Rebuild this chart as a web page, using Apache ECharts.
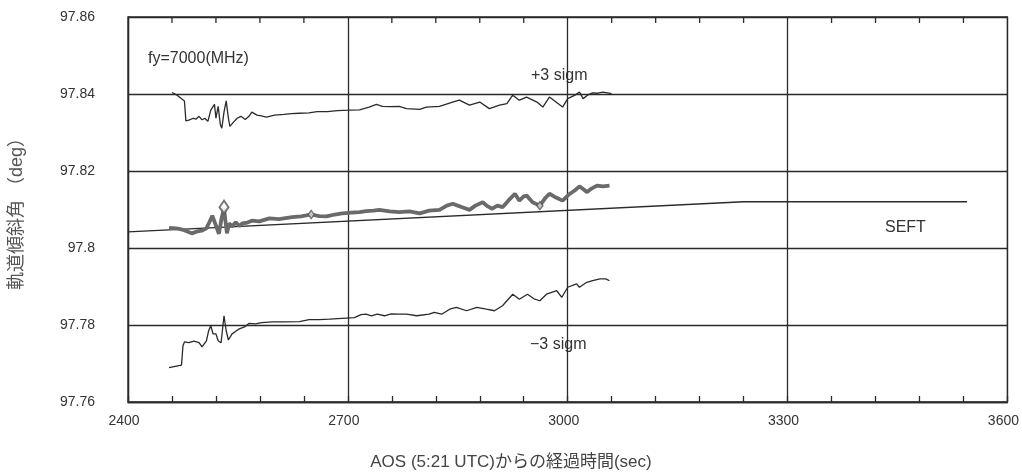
<!DOCTYPE html>
<html>
<head>
<meta charset="utf-8">
<script src="https://cdn.jsdelivr.net/npm/echarts@6/dist/echarts.min.js"></script>
<style>
html,body{margin:0;padding:0;background:#fff;}
#chart{width:1022px;height:472px;}
</style>
</head>
<body>
<div id="chart"></div>
<script>
// [time since AOS (s), inclination (deg)]
const upperSigma = [
[2460,97.8404],[2467,97.8397],[2477,97.8382],[2479,97.8330],[2483,97.8332],[2489,97.8337],[2493,97.8335],
[2497,97.8342],[2501,97.8333],[2505,97.8337],[2509,97.8329],[2513,97.8358],[2518,97.8373],[2520,97.8337],
[2523,97.8368],[2526,97.8321],[2528,97.8311],[2531,97.8353],[2534,97.8382],[2537,97.8337],[2539,97.8316],
[2544,97.8327],[2549,97.8337],[2554,97.8342],[2560,97.8334],[2565,97.8342],[2569,97.8353],[2576,97.8345],
[2582,97.8343],[2589,97.8340],[2600,97.8345],[2613,97.8347],[2623,97.8349],[2634,97.8350],[2647,97.8351],
[2658,97.8354],[2672,97.8354],[2686,97.8357],[2702,97.8358],[2716,97.8359],[2729,97.8366],[2739,97.8373],
[2747,97.8368],[2757,97.8367],[2770,97.8368],[2780,97.8362],[2798,97.8360],[2807,97.8366],[2825,97.8368],
[2843,97.8379],[2852,97.8384],[2866,97.8371],[2880,97.8379],[2893,97.8362],[2907,97.8371],[2917,97.8375],
[2925,97.8397],[2934,97.8384],[2944,97.8392],[2958,97.8379],[2966,97.8366],[2975,97.8392],[2984,97.8379],
[2993,97.8366],[3000,97.8388],[3010,97.8397],[3016,97.8405],[3021,97.8388],[3027,97.8397],[3034,97.8403],
[3041,97.8402],[3048,97.8405],[3060,97.8401]
];
const estimate = [
[2456,97.8052],[2466,97.8051],[2474,97.8048],[2481,97.8043],[2487,97.8038],[2494,97.8043],[2501,97.8045],
[2507,97.8051],[2511,97.8067],[2515,97.8084],[2520,97.8058],[2524,97.8037],[2528,97.8080],[2531,97.8102],
[2535,97.8038],[2538,97.8064],[2542,97.8056],[2547,97.8067],[2552,97.8057],[2556,97.8064],[2563,97.8066],
[2569,97.8071],[2579,97.8069],[2593,97.8077],[2606,97.8075],[2624,97.8080],[2636,97.8082],[2650,97.8087],
[2661,97.8083],[2671,97.8082],[2682,97.8087],[2692,97.8090],[2705,97.8092],[2716,97.8093],[2725,97.8096],
[2735,97.8097],[2743,97.8099],[2757,97.8095],[2770,97.8093],[2784,97.8095],[2798,97.8090],[2811,97.8097],
[2825,97.8099],[2835,97.8110],[2843,97.8115],[2850,97.8110],[2856,97.8106],[2866,97.8099],[2874,97.8110],
[2884,97.8119],[2891,97.8108],[2897,97.8102],[2904,97.8110],[2911,97.8106],[2919,97.8123],[2928,97.8141],
[2934,97.8123],[2940,97.8134],[2944,97.8136],[2952,97.8119],[2962,97.8110],[2969,97.8129],[2975,97.8141],
[2984,97.8131],[2993,97.8123],[2999,97.8134],[3003,97.8141],[3010,97.8150],[3016,97.8160],[3022,97.8152],
[3026,97.8145],[3033,97.8155],[3040,97.8162],[3048,97.8160],[3057,97.8162]
];
const lowerSigma = [
[2456,97.7689],[2473,97.7696],[2475,97.7746],[2477,97.7756],[2483,97.7754],[2490,97.7758],[2497,97.7754],
[2501,97.7743],[2507,97.7759],[2510,97.7785],[2513,97.7798],[2516,97.7777],[2520,97.7777],[2523,97.7759],
[2527,97.7754],[2531,97.7824],[2534,97.7785],[2537,97.7761],[2542,97.7777],[2548,97.7785],[2552,97.7790],
[2559,97.7795],[2565,97.7804],[2574,97.7803],[2582,97.7806],[2597,97.7808],[2613,97.7808],[2634,97.7809],
[2647,97.7814],[2661,97.7814],[2675,97.7815],[2692,97.7817],[2709,97.7819],[2718,97.7827],[2725,97.7828],
[2732,97.7824],[2740,97.7828],[2750,97.7824],[2759,97.7829],[2770,97.7828],[2780,97.7828],[2794,97.7824],
[2811,97.7828],[2818,97.7833],[2828,97.7828],[2839,97.7841],[2848,97.7846],[2862,97.7837],[2876,97.7846],
[2889,97.7841],[2900,97.7837],[2911,97.7850],[2925,97.7880],[2934,97.7867],[2945,97.7880],[2954,97.7868],
[2962,97.7863],[2971,97.7880],[2985,97.7889],[2992,97.7872],[3000,97.7898],[3012,97.7907],[3016,97.7898],
[3026,97.7911],[3034,97.7915],[3044,97.7920],[3052,97.7920],[3057,97.7915]
];
const seft = [[2400,97.8042],[3240,97.8120],[3545,97.8120]];
const bigDiamond = [[2531,97.8106]];
const smallDiamonds = [[2650,97.8087],[2962,97.8110]];
// minor tick positions along the top frame (s)
const topTicks = [2460,2520,2580,2640,2760,2820,2880,2940,3060,3120,3180,3240,3360,3420,3480,3540];

const xMin = 2400, xMax = 3600, xStep = 300;
const yMin = 97.76, yMax = 97.86, yStep = 0.02;

const texts = {
  freq: 'fy=7000(MHz)',
  plus: '+3 sigm',
  minus: '\u22123 sigm',
  seft: 'SEFT',
  xName: 'AOS (5:21 UTC)からの経過時間(sec)',
  yName: '軌道傾斜角 （deg）'
};

const FONT = '"Liberation Sans", Arial, "Noto Sans CJK JP", sans-serif';
const INK = '#2a2a2a';

const chart = echarts.init(document.getElementById('chart'));
chart.setOption({
  animation: false,
  backgroundColor: '#fff',
  grid: {left: 128, right: 14, top: 17, bottom: 70, show: true, borderColor: INK, borderWidth: 1.3},
  xAxis: {
    type: 'value', min: xMin, max: xMax, interval: xStep,
    axisLine: {show: true, onZero: false, lineStyle: {color: INK, width: 1.3}},
    axisTick: {show: true, inside: true, length: 6, lineStyle: {color: INK, width: 1.3}},
    minorTick: {show: true, splitNumber: 5, length: 6, lineStyle: {color: INK, width: 1.3}},
    axisLabel: {color: '#333', fontSize: 14, fontFamily: FONT, margin: 12,
      padding: [0, 8, 0, 0], formatter: v => String(v)},
    splitLine: {show: true, lineStyle: {color: INK, width: 1.3}}
  },
  yAxis: {
    type: 'value', min: yMin, max: yMax, interval: yStep,
    name: texts.yName, nameLocation: 'middle', nameGap: 102, nameRotate: 90,
    nameTextStyle: {color: '#555', fontSize: 18, fontFamily: FONT},
    axisLine: {show: true, lineStyle: {color: INK, width: 1.3}},
    axisTick: {show: false},
    axisLabel: {color: '#333', fontSize: 14, fontFamily: FONT, margin: 33},
    splitLine: {show: true, lineStyle: {color: INK, width: 1.3}}
  },
  graphic: [
    {type: 'text', left: 148, top: 51, style: {text: texts.freq, fill: '#333', font: '16px ' + FONT}},
    {type: 'text', left: 531, top: 68, style: {text: texts.plus, fill: '#333', font: '16px ' + FONT}},
    {type: 'text', left: 530, top: 337, style: {text: texts.minus, fill: '#333', font: '16px ' + FONT}},
    {type: 'text', left: 885, top: 220, style: {text: texts.seft, fill: '#333', font: '16px ' + FONT}},
    {type: 'text', left: 'center', top: 454, style: {text: texts.xName, fill: '#444', font: '17px ' + FONT}}
  ],
  series: [
    {type: 'custom', data: topTicks.map(t => [t, yMax]), silent: true, z: 2,
     renderItem: function (params, api) {
       const p = api.coord([api.value(0), api.value(1)]);
       return {type: 'line', shape: {x1: p[0], y1: p[1], x2: p[0], y2: p[1] + 6},
               style: {stroke: INK, lineWidth: 1.3}};
     }},
    {type: 'line', data: seft, symbol: 'none', lineStyle: {color: INK, width: 1.4}, z: 3},
    {type: 'line', data: upperSigma, symbol: 'none', lineStyle: {color: INK, width: 1.3}, z: 4},
    {type: 'line', data: lowerSigma, symbol: 'none', lineStyle: {color: INK, width: 1.3}, z: 4},
    {type: 'line', data: estimate, symbol: 'none', lineStyle: {color: '#6a6a6a', width: 3.8}, z: 5},
    {type: 'scatter', data: bigDiamond, symbol: 'diamond', symbolSize: [9, 13],
     itemStyle: {color: '#fff', borderColor: '#555', borderWidth: 2}, z: 6},
    {type: 'scatter', data: smallDiamonds, symbol: 'diamond', symbolSize: [6, 8],
     itemStyle: {color: '#ddd', borderColor: '#555', borderWidth: 1.5}, z: 6}
  ]
});
</script>
</body>
</html>
